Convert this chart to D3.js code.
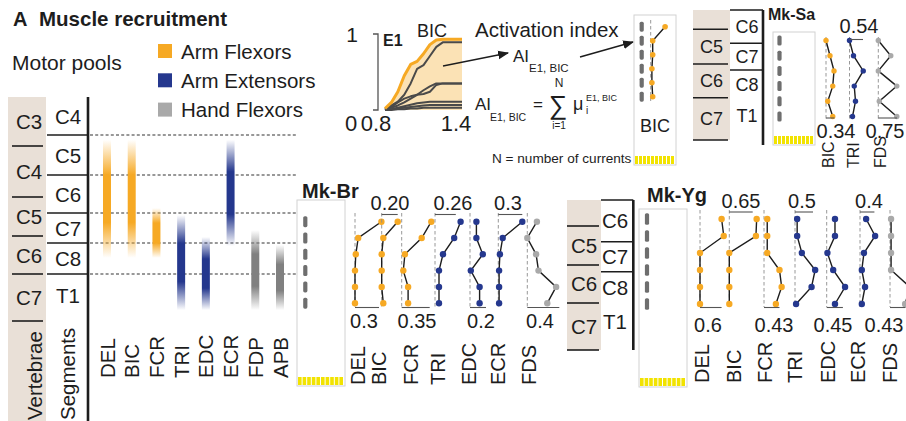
<!DOCTYPE html>
<html><head><meta charset="utf-8">
<script src="https://cdn.jsdelivr.net/npm/d3@7"></script>
<style>
html,body{margin:0;padding:0;background:#fff;}
svg text{font-family:"Liberation Sans",Arial,Helvetica,sans-serif;fill:#1d1d1d;}
</style></head><body>
<svg id="fig" width="906" height="421"></svg>
<script>
// ---------------- data ----------------
const legendGroups = ["Arm Flexors", "Arm Extensors", "Hand Flexors"];
const groupColors = ["#f6a924", "#25388e", "#a9a9a9"];
const poolColors = ["#f6a924", "#24378d", "#808080"];
const muscleGroupOf = {DEL: 0, BIC: 0, FCR: 0, TRI: 1, EDC: 1, ECR: 1, FDS: 2, FDP: 2, APB: 2};

const vertebrae = ["C3", "C4", "C5", "C6", "C7"];
const segments = ["C4", "C5", "C6", "C7", "C8", "T1"];
const poolMuscles = ["DEL", "BIC", "FCR", "TRI", "EDC", "ECR", "FDP", "APB"];
// rostro-caudal extent of each motor pool, in segment units (0 = top of C4)
const poolStart = [1.12, 1.12, 2.87, 3.07, 3.8, 1.12, 3.57, 4.06];
const poolEnd = [4.48, 4.48, 4.48, 5.86, 5.86, 4.1, 5.86, 5.86];

// E1 recruitment curves of BIC (amplitude vs normalised response)
const e1Amplitude = [0.8, 0.85, 0.9, 0.95, 1.0, 1.05, 1.1, 1.15, 1.2, 1.25, 1.3, 1.35, 1.4];
const e1BicAI  = [0.02, 0.1, 0.24, 0.45, 0.6, 0.64, 0.74, 0.86, 0.92, 0.93, 0.93, 0.93, 0.93];
const currentA = [0.01, 0.06, 0.11, 0.2, 0.35, 0.54, 0.59, 0.71, 0.83, 0.89, 0.89, 0.89, 0.89];
const currentB = [0.01, 0.03, 0.06, 0.1, 0.15, 0.2, 0.26, 0.31, 0.35, 0.35, 0.35, 0.35, 0.35];
const currentC = [0, 0.04, 0.1, 0.15, 0.18, 0.2, 0.21, 0.24, 0.33, 0.35, 0.35, 0.35, 0.35];
const currentD = [0, 0.01, 0.03, 0.05, 0.07, 0.09, 0.1, 0.11, 0.11, 0.11, 0.11, 0.11, 0.11];
const currentE = [0, 0.01, 0.02, 0.03, 0.04, 0.05, 0.06, 0.065, 0.065, 0.065, 0.065, 0.065, 0.065];
const currentF = [0, 0, 0.01, 0.01, 0.02, 0.02, 0.03, 0.03, 0.03, 0.03, 0.03, 0.03, 0.03];
const e1Ticks = [0.8, 1.4];

// activation index of BIC across the six electrode rows (rostral -> caudal)
const bicExample = [0.36, 0.05, 0.05, 0.03, 0.03, 0.05];

// Mk-Sa
const saMuscles = ["BIC", "TRI", "FDS"];
const saBIC = [0, 0.16, 0.32, 0.27, 0.07, 0.27];
const saTRI = [0, 0.16, 0.55, 0.19, 0.24, 0.12];
const saFDS = [0, 0.5, 0, 0.74, 0.04, 0.74];
const saScale = ["0.34", "0.54", "0.75"];
const saVertebrae = ["C5", "C6", "C7"];
const saSegments = ["C6", "C7", "C8", "T1"];

// Mk-Br
const brMuscles = ["DEL", "BIC", "FCR", "TRI", "EDC", "ECR", "FDS"];
const brDEL = [0.33, 0.04, 0.01, 0, 0, 0];
const brBIC = [0.2, 0.02, 0, 0, 0, 0.02];
const brFCR = [0.37, 0.25, 0.04, 0.02, 0.08, 0.08];
const brTRI = [0.32, 0.24, 0.1, 0.05, 0.05, 0.05];
const brEDC = [0.08, 0.08, 0.16, 0.01, 0.12, 0.12];
const brECR = [0.3, 0.055, 0.02, 0.01, 0.01, 0.01];
const brFDS = [0.12, 0, 0.11, 0.14, 0.36, 0.25];
const brScale = ["0.3", "0.20", "0.35", "0.26", "0.2", "0.3", "0.4"];

// Mk-Yg
const ygMuscles = ["DEL", "BIC", "FCR", "TRI", "EDC", "ECR", "FDS"];
const ygDEL = [0.6, 0.66, 0, 0, 0, 0];
const ygBIC = [0.76, 0.74, 0, 0, 0, 0];
const ygFCR = [0.09, 0.09, 0.09, 0.43, 0.49, 0.33];
const ygTRI = [0.06, 0.06, 0.19, 0.56, 0.46, 0.03];
const ygEDC = [0.23, 0.23, 0.02, 0.18, 0.51, 0.23];
const ygECR = [0.17, 0.42, 0.11, 0.05, 0.14, 0.05];
const ygFDS = [0.03, 0.03, 0.03, 0.03, 0.55, 0.42];
const ygScale = ["0.6", "0.65", "0.43", "0.5", "0.45", "0.4", "0.43"];
const ygVertebrae = ["C5", "C6", "C7"];
const ygSegments = ["C6", "C7", "C8", "T1"];

// ---------------- drawing ----------------
const INK = "#1d1d1d";
const svg = d3.select("#fig");
const defs = svg.append("defs");

poolColors.forEach((c, i) => {
  const lg = defs.append("linearGradient").attr("id", "pool" + i)
    .attr("x1", 0).attr("x2", 0).attr("y1", 0).attr("y2", 1);
  [[0, 0], [0.3, 1], [0.7, 1], [1, 0]].forEach(([o, a]) =>
    lg.append("stop").attr("offset", o).attr("stop-color", c).attr("stop-opacity", a));
});
defs.append("marker").attr("id", "arrow").attr("viewBox", "0 0 10 10")
  .attr("refX", 9).attr("refY", 5).attr("markerWidth", 11).attr("markerHeight", 11)
  .attr("markerUnits", "userSpaceOnUse").attr("orient", "auto")
  .append("path").attr("d", "M0,1L10,5L0,9Z").attr("fill", INK);

function txt(g, x, y, s, size, opts = {}) {
  const t = g.append("text").attr("x", x).attr("y", y).attr("font-size", size).text(s);
  if (opts.anchor) t.attr("text-anchor", opts.anchor);
  if (opts.bold) t.attr("font-weight", "bold");
  return t;
}
function vtxt(g, x, y, s, size) {
  return g.append("text").attr("transform", `translate(${x},${y}) rotate(-90)`)
    .attr("font-size", size).text(s);
}
function hline(g, x1, x2, y, w = 1.5, color = INK) {
  return g.append("line").attr("x1", x1).attr("x2", x2).attr("y1", y).attr("y2", y)
    .attr("stroke", color).attr("stroke-width", w);
}
function vline(g, x, y1, y2, w = 2.5, color = INK) {
  return g.append("line").attr("x1", x).attr("x2", x).attr("y1", y1).attr("y2", y2)
    .attr("stroke", color).attr("stroke-width", w);
}

// title and legend
txt(svg, 13, 26, "A", 20, {bold: true});
txt(svg, 39, 26, "Muscle recruitment", 20.5, {bold: true});
txt(svg, 12, 70, "Motor pools", 21);
const legend = svg.append("g");
legendGroups.forEach((name, i) => {
  const cy = 51 + i * 29.3;
  legend.append("rect").attr("x", 158).attr("y", cy - 7).attr("width", 14).attr("height", 14)
    .attr("fill", groupColors[i]);
  txt(legend, 181, cy + 7.5, name, 20.5);
});

// ---- spinal cord map with motor pools ----
const left = svg.append("g");
const vertBounds = [97, 146, 197, 236, 274, 321];
const segY = d3.scaleLinear().domain(d3.range(segments.length + 1))
  .range([98, 135, 175, 213, 243, 274, 316]);
left.append("rect").attr("x", 8).attr("y", 97).attr("width", 38).attr("height", 324).attr("fill", "#e9e0d7");
vertebrae.forEach((v, i) => {
  txt(left, 29, (vertBounds[i] + vertBounds[i + 1]) / 2 + 7.5, v, 20.5, {anchor: "middle"});
  hline(left, 12, 43, vertBounds[i + 1], 1.6);
});
segments.forEach((s, i) => {
  txt(left, 68, (segY(i) + segY(i + 1)) / 2 + 7.5, s, 20.5, {anchor: "middle"});
  if (i > 0) {
    hline(left, 47, 88, segY(i), 1.5);
    left.append("line").attr("x1", 90).attr("x2", 298).attr("y1", segY(i)).attr("y2", segY(i))
      .attr("stroke", "#333").attr("stroke-width", 1.2).attr("stroke-dasharray", "3,2.2");
  }
});
vline(left, 88, 97, 421, 2.6);
vtxt(left, 42, 420, "Vertebrae", 20.5);
vtxt(left, 75, 420, "Segments", 20.5);

const poolX = d3.scalePoint().domain(poolMuscles).range([107, 280]);
poolMuscles.forEach((m, i) => {
  left.append("rect").attr("x", poolX(m) - 4).attr("width", 8)
    .attr("y", segY(poolStart[i])).attr("height", segY(poolEnd[i]) - segY(poolStart[i]))
    .attr("fill", `url(#pool${muscleGroupOf[m]})`);
  vtxt(left, poolX(m) + 7.5, 378, m, 20.5);
});

// ---- E1 recruitment curves ----
const e1 = svg.append("g");
const ex = d3.scaleLinear().domain([0.8, 1.4]).range([385, 462]);
const ey = d3.scaleLinear().domain([0, 1]).range([110, 34]);
e1.append("path").datum(e1BicAI)
  .attr("d", d3.area().x((d, i) => ex(e1Amplitude[i])).y0(ey(0)).y1(d => ey(d)))
  .attr("fill", "#fbe2b5");
const curve = d3.line().x((d, i) => ex(e1Amplitude[i])).y(d => ey(d));
[currentF, currentE, currentD, currentC, currentB, currentA].forEach(c =>
  e1.append("path").datum(c).attr("d", curve).attr("fill", "none")
    .attr("stroke", "#4a4a4a").attr("stroke-width", 2).attr("stroke-linejoin", "round"));
e1.append("path").datum(e1BicAI).attr("d", curve).attr("fill", "none")
  .attr("stroke", "#f6a924").attr("stroke-width", 3).attr("stroke-linejoin", "round");
// bracket-style y axis
e1.append("path").attr("d", `M373,${ey(1)}H378V${ey(0)}H373`).attr("fill", "none")
  .attr("stroke", "#555").attr("stroke-width", 1.3);
txt(e1, 352, 42, "1", 21, {anchor: "middle"});
txt(e1, 351, 131, "0", 22, {anchor: "middle"});
e1Ticks.forEach(t => txt(e1, ex(t) - (t === 0.8 ? 9 : 6), 131, String(t), 22, {anchor: "middle"}));
txt(e1, 383, 46, "E1", 16, {bold: true});
txt(e1, 432, 37, "BIC", 18, {anchor: "middle"});

// activation index text and equation
txt(svg, 475, 37, "Activation index", 20.5);
txt(svg, 513, 62, "AI", 17);
txt(svg, 529, 72, "E1, BIC", 11.5);
svg.append("line").attr("x1", 443).attr("y1", 66).attr("x2", 508).attr("y2", 53)
  .attr("stroke", INK).attr("stroke-width", 1.5).attr("marker-end", "url(#arrow)");
svg.append("line").attr("x1", 580).attr("y1", 57).attr("x2", 633).attr("y2", 42)
  .attr("stroke", INK).attr("stroke-width", 1.5).attr("marker-end", "url(#arrow)");
txt(svg, 475, 110, "AI", 17);
txt(svg, 490, 121, "E1, BIC", 10.5);
txt(svg, 533, 110, "=", 17);
txt(svg, 558, 114, "\u2211", 26, {anchor: "middle"});
txt(svg, 559, 87, "N", 12, {anchor: "middle"});
txt(svg, 559, 129, "i=1", 10, {anchor: "middle"});
txt(svg, 573, 110, "\u03bc", 18);
txt(svg, 586, 101, "E1, BIC", 9);
txt(svg, 586, 114, "i", 10);
txt(svg, 492, 163, "N = number of currents", 13.6);

// ---- electrode array boxes ----
function electrodeBox(x, y, w, h, dashX, row0, step, dashLen) {
  const g = svg.append("g");
  g.append("rect").attr("x", x).attr("y", y).attr("width", w).attr("height", h)
    .attr("fill", "#fff").attr("stroke", "#d2d2d2").attr("stroke-width", 1);
  d3.range(6).forEach(j => g.append("rect").attr("x", dashX - 2.1).attr("y", row0 + j * step - dashLen / 2)
    .attr("width", 4.2).attr("height", dashLen).attr("rx", 1.6).attr("fill", "#6e6e6e"));
  const sw = (w - 2) / 10;
  d3.range(10).forEach(j => g.append("rect").attr("x", x + 1 + j * sw).attr("y", y + h - 9)
    .attr("width", sw - 1).attr("height", 8).attr("fill", "#f2e300"));
  return g;
}

// ---- activation index profiles ----
function profiles(opt) {
  const g = svg.append("g");
  opt.names.forEach((name, i) => {
    const vals = opt.values[i];
    const x0 = opt.refX[i];
    const xs = d3.scaleLinear().domain([0, 1]).range([x0, x0 + opt.ppu]);
    const ys = j => opt.row0 + j * opt.step;
    const col = groupColors[muscleGroupOf[name]];
    vline(g, x0, opt.refTop, opt.refBottom, 0.9, "#8c8c8c").attr("stroke-dasharray", "3.5,2.5");
    g.append("path").datum(vals).attr("d", d3.line().x(v => xs(v)).y((v, j) => ys(j)))
      .attr("fill", "none").attr("stroke", INK).attr("stroke-width", 1.4);
    g.selectAll(null).data(vals).join("circle")
      .attr("cx", v => xs(v)).attr("cy", (v, j) => ys(j)).attr("r", opt.r).attr("fill", col);
    if (opt.scales) {
      const sv = +opt.scales[i];
      const onTop = i % 2 === 1;
      const by = onTop ? opt.topBarY : opt.botBarY;
      hline(g, xs(0), xs(sv), by, 1.1, "#555");
      const lx = opt.labelX ? opt.labelX[i] : (xs(0) + xs(sv)) / 2;
      txt(g, lx, onTop ? opt.topLabelY : opt.botLabelY, opt.scales[i], opt.valueSize, {anchor: "middle"});
    }
    if (opt.nameX) vtxt(g, opt.nameX[i] + opt.nameSize * 0.35, opt.nameY, name, opt.nameSize);
  });
}

// spinal column for each monkey
function column(vx, vw, vTop, vBounds, vLabels, sx, sBounds, sLabels, lineX, lineTop, lineBot, size) {
  const g = svg.append("g");
  g.append("rect").attr("x", vx).attr("y", vTop).attr("width", vw)
    .attr("height", vBounds[vBounds.length - 1] - vTop).attr("fill", "#e9e0d7");
  vLabels.forEach((v, i) => txt(g, vx + vw / 2, (vBounds[i] + vBounds[i + 1]) / 2 + size * 0.36, v, size, {anchor: "middle"}));
  vBounds.forEach(b => hline(g, vx, vx + vw - 2, b, 1.6));
  sLabels.forEach((s, i) => {
    txt(g, sx, (sBounds[i] + sBounds[i + 1]) / 2 + size * 0.36, s, size, {anchor: "middle"});
    if (i < sLabels.length - 1 || i === 0) hline(g, vx + vw, lineX, sBounds[i], 1.5);
  });
  vline(g, lineX, lineTop, lineBot, 2.6);
}

// example BIC profile
electrodeBox(634, 15, 42, 150, 641.7, 26.7, 14, 10);
txt(svg, 655, 132, "BIC", 18, {anchor: "middle"});
profiles({names: ["BIC"], values: [bicExample], refX: [650.7], ppu: 40, row0: 26.7, step: 14,
  r: 2.8, refTop: 20, refBottom: 101});

// Mk-Sa
column(693, 37, 10, [29.3, 64, 97.7, 140], saVertebrae, 747, [10, 43.3, 70, 98.3, 132], saSegments, 763, 10, 145, 18);
txt(svg, 768, 20, "Mk-Sa", 16, {bold: true});
electrodeBox(773, 32, 42, 113, 779.5, 40.5, 15.2, 10);
profiles({names: saMuscles, values: [saBIC, saTRI, saFDS], scales: saScale,
  refX: [826, 849.5, 878.3], ppu: 25, row0: 40.5, step: 15.2, r: 2.7, refTop: 37, refBottom: 120,
  topBarY: 39.5, topLabelY: 33, botBarY: 118, botLabelY: 138, valueSize: 20,
  labelX: [836, 859, 885],
  nameX: [828, 853, 880], nameY: 168, nameSize: 16});

// Mk-Br
txt(svg, 302, 198, "Mk-Br", 20, {bold: true});
electrodeBox(297, 200, 48, 186, 305.3, 221.7, 16.3, 11);
profiles({names: brMuscles, values: [brDEL, brBIC, brFCR, brTRI, brEDC, brECR, brFDS], scales: brScale,
  refX: [355, 381.7, 401.7, 435, 470, 498.3, 527.3], ppu: 80, row0: 221.7, step: 16.3, r: 3.2,
  refTop: 213, refBottom: 308, topBarY: 214.5, topLabelY: 210, botBarY: 307.5, botLabelY: 328, valueSize: 20,
  labelX: [364, 390, 417, 453, 481, 508, 540],
  nameX: [358, 379, 411, 437.5, 469, 497.5, 529], nameY: 385, nameSize: 20});

// Mk-Yg
column(567, 34, 200, [226, 265, 303, 350], ygVertebrae, 615, [200, 241.7, 271.7, 303.3, 340], ygSegments, 633.3, 200, 350, 20.5);
txt(svg, 647, 202, "Mk-Yg", 20, {bold: true});
electrodeBox(639, 209, 48, 178, 647, 219, 17, 11.5);
profiles({names: ygMuscles, values: [ygDEL, ygBIC, ygFCR, ygTRI, ygEDC, ygECR, ygFDS], scales: ygScale,
  refX: [700, 729.3, 764, 795, 826.7, 860, 890], ppu: 36, row0: 219, step: 17, r: 3.2,
  refTop: 210, refBottom: 307, topBarY: 212, topLabelY: 208, botBarY: 307.5, botLabelY: 331.5, valueSize: 20,
  labelX: [708, 741, 774, 802, 833, 869, 884],
  nameX: [702, 734, 765, 795, 828, 858, 890], nameY: 383, nameSize: 20});
</script>
</body></html>
